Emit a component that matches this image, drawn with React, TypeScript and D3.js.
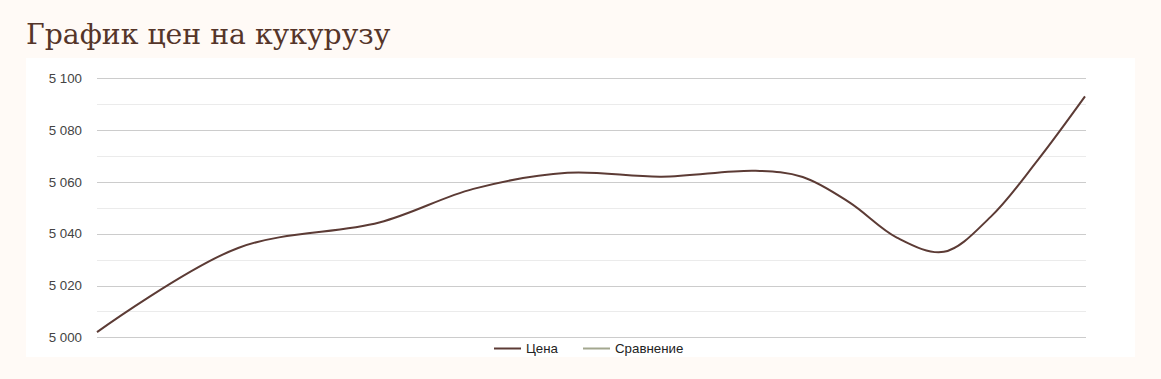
import React from "react";
import * as d3 from "d3";

const title = "График цен на кукурузу";
const days = [0, 3, 6, 8, 10, 12, 14, 15, 16, 17, 18, 19, 20, 21];
const prices = [5002, 5034.5, 5044.3, 5057.3, 5063.5, 5062, 5064.3, 5061.9, 5052, 5038.5, 5033, 5046.6, 5068.5, 5093];
const yTicks = [5000, 5020, 5040, 5060, 5080, 5100];
const yMinor = [5010, 5030, 5050, 5070, 5090];
const legendItems = [
  { name: "Цена", color: "#5c3b35" },
  { name: "Сравнение", color: "#a3a78f" },
];

const W = 1161;
const H = 379;
const fmt = (v: number) => d3.format(",")(v).replace(/,/g, "\u00a0");

export default function App() {
  const x = d3.scaleLinear().domain([d3.min(days)!, d3.max(days)!]).range([97, 1085]);
  const y = d3.scaleLinear().domain([5000, 5100]).range([337.3, 78.3]);
  const line = d3
    .line<number>()
    .x((_, i) => x(days[i]))
    .y((d) => y(d))
    .curve(d3.curveCatmullRom.alpha(0.5));
  return (
    <svg
      width={W}
      height={H}
      style={{ position: "absolute", left: 0, top: 0, display: "block" }}
    >
      <rect x={0} y={0} width={W} height={H} fill="#fffaf6" />
      <text
        x={26}
        y={43.5}
        fontFamily="'DejaVu Serif', serif"
        fontSize={28.3}
        fill="#553529"
      >
        {title}
      </text>
      <rect x={26} y={58} width={1109} height={299} fill="#ffffff" />
      {yMinor.map((v) => (
        <line key={"m" + v} x1={97} x2={1086} y1={Math.round(y(v)) + 0.5} y2={Math.round(y(v)) + 0.5} stroke="#ebebeb" />
      ))}
      {yTicks.map((v) => (
        <g key={v}>
          <line x1={97} x2={1086} y1={Math.round(y(v)) + 0.5} y2={Math.round(y(v)) + 0.5} stroke="#cccccc" />
          <text
            x={82}
            y={y(v)}
            dy="0.35em"
            textAnchor="end"
            fontFamily="Arial, 'Liberation Sans', sans-serif"
            fontSize={13.3}
            fill="#444444"
          >
            {fmt(v)}
          </text>
        </g>
      ))}
      <path d={line(prices) || ""} fill="none" stroke="#5c3b35" strokeWidth={2} strokeLinejoin="round" />
      {legendItems.map((item, i) => {
        const lx = i === 0 ? 494 : 583;
        return (
          <g key={item.name}>
            <line x1={lx} x2={lx + 27} y1={348.5} y2={348.5} stroke={item.color} strokeWidth={2} />
            <text
              x={lx + 32}
              y={353}
              fontFamily="Arial, 'Liberation Sans', sans-serif"
              fontSize={13.3}
              fill="#222222"
            >
              {item.name}
            </text>
          </g>
        );
      })}
    </svg>
  );
}
